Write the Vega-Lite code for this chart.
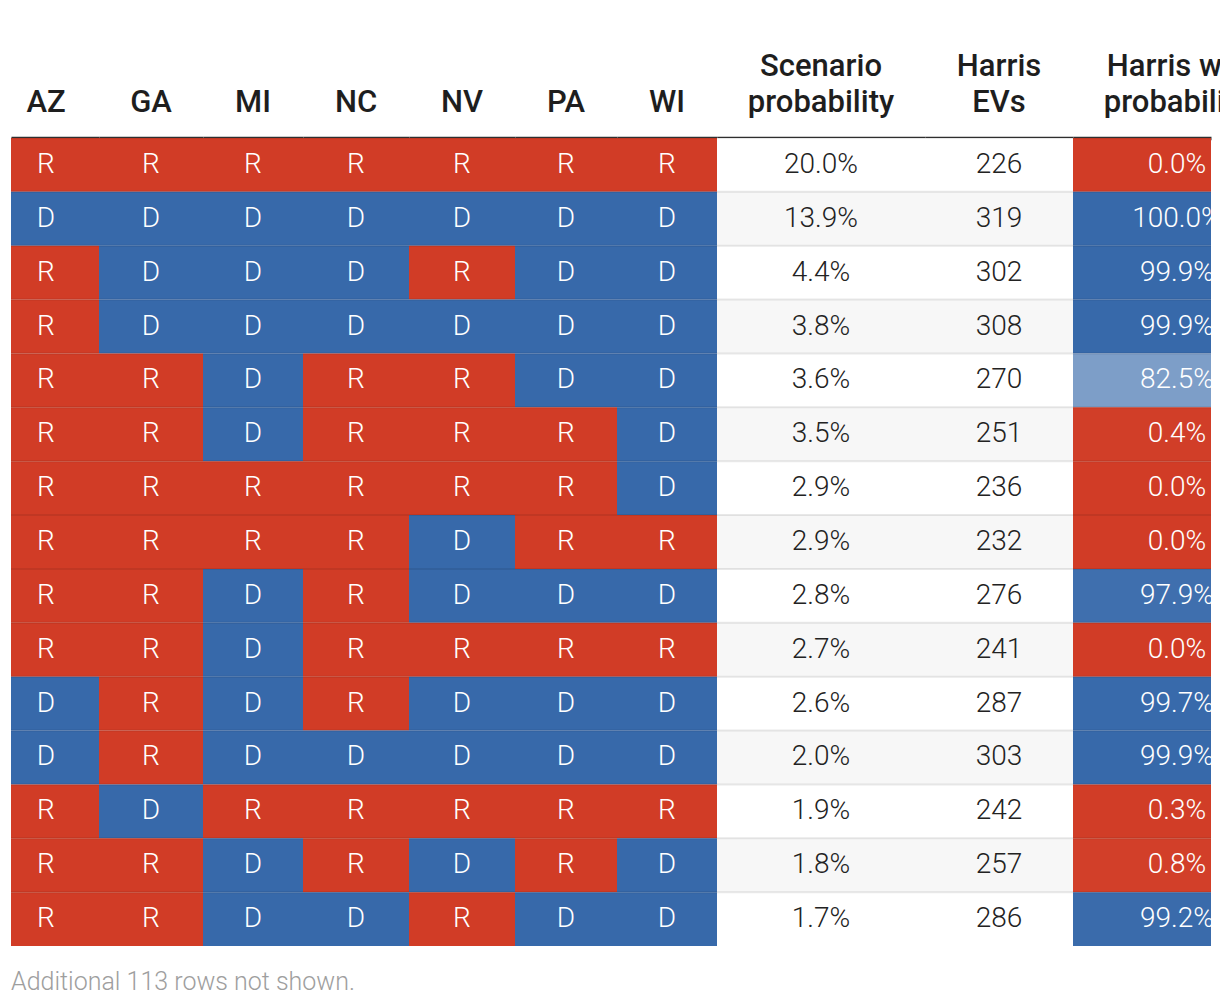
{
  "$schema": "https://vega.github.io/schema/vega-lite/v6.json",
  "padding": {"left": 10, "top": 50, "right": 0, "bottom": 4},
  "background": "white",
  "bounds": "flush",
  "datasets": {
    "rows": [
      {"row": 1, "AZ": "R", "GA": "R", "MI": "R", "NC": "R", "NV": "R", "PA": "R", "WI": "R", "scen": 0.200, "evs": 226, "win": 0.000},
      {"row": 2, "AZ": "D", "GA": "D", "MI": "D", "NC": "D", "NV": "D", "PA": "D", "WI": "D", "scen": 0.139, "evs": 319, "win": 1.000},
      {"row": 3, "AZ": "R", "GA": "D", "MI": "D", "NC": "D", "NV": "R", "PA": "D", "WI": "D", "scen": 0.044, "evs": 302, "win": 0.999},
      {"row": 4, "AZ": "R", "GA": "D", "MI": "D", "NC": "D", "NV": "D", "PA": "D", "WI": "D", "scen": 0.038, "evs": 308, "win": 0.999},
      {"row": 5, "AZ": "R", "GA": "R", "MI": "D", "NC": "R", "NV": "R", "PA": "D", "WI": "D", "scen": 0.036, "evs": 270, "win": 0.825},
      {"row": 6, "AZ": "R", "GA": "R", "MI": "D", "NC": "R", "NV": "R", "PA": "R", "WI": "D", "scen": 0.035, "evs": 251, "win": 0.004},
      {"row": 7, "AZ": "R", "GA": "R", "MI": "R", "NC": "R", "NV": "R", "PA": "R", "WI": "D", "scen": 0.029, "evs": 236, "win": 0.000},
      {"row": 8, "AZ": "R", "GA": "R", "MI": "R", "NC": "R", "NV": "D", "PA": "R", "WI": "R", "scen": 0.029, "evs": 232, "win": 0.000},
      {"row": 9, "AZ": "R", "GA": "R", "MI": "D", "NC": "R", "NV": "D", "PA": "D", "WI": "D", "scen": 0.028, "evs": 276, "win": 0.979},
      {"row": 10, "AZ": "R", "GA": "R", "MI": "D", "NC": "R", "NV": "R", "PA": "R", "WI": "R", "scen": 0.027, "evs": 241, "win": 0.000},
      {"row": 11, "AZ": "D", "GA": "R", "MI": "D", "NC": "R", "NV": "D", "PA": "D", "WI": "D", "scen": 0.026, "evs": 287, "win": 0.997},
      {"row": 12, "AZ": "D", "GA": "R", "MI": "D", "NC": "D", "NV": "D", "PA": "D", "WI": "D", "scen": 0.020, "evs": 303, "win": 0.999},
      {"row": 13, "AZ": "R", "GA": "D", "MI": "R", "NC": "R", "NV": "R", "PA": "R", "WI": "R", "scen": 0.019, "evs": 242, "win": 0.003},
      {"row": 14, "AZ": "R", "GA": "R", "MI": "D", "NC": "R", "NV": "D", "PA": "R", "WI": "D", "scen": 0.018, "evs": 257, "win": 0.008},
      {"row": 15, "AZ": "R", "GA": "R", "MI": "D", "NC": "D", "NV": "R", "PA": "D", "WI": "D", "scen": 0.017, "evs": 286, "win": 0.992}
    ]
  },
  "data": {"name": "rows"},
  "title": {"text": "Additional 113 rows not shown.", "orient": "bottom", "anchor": "start", "frame": "group", "font": "Roboto", "fontSize": 25, "fontWeight": 300, "color": "#9e9e9e", "offset": 24},
  "spacing": 0,
  "hconcat": [
    {"width": 88, "height": 808, "encoding": {"x": {"datum": "|AZ", "type": "nominal", "axis": {"labelOffset": -9}}, "y": {"field": "row", "type": "ordinal", "axis": null, "scale": {"paddingInner": 0, "paddingOuter": 0}}},
     "layer": [
      {"mark": "rect", "encoding": {"fill": {"field": "AZ", "type": "nominal", "scale": {"domain": ["R", "D"], "range": ["#d13c26", "#3769aa"]}, "legend": null}}},
      {"mark": {"type": "rule", "color": "black", "opacity": 0.08, "strokeWidth": 2}, "encoding": {"x": null, "y": {"field": "row", "type": "ordinal", "bandPosition": 0, "axis": null}}},
      {"mark": {"type": "text", "color": "white", "font": "Roboto", "fontSize": 28, "fontWeight": 300, "dx": -9}, "encoding": {"text": {"field": "AZ"}}}
     ]},
    {"width": 104, "height": 808, "encoding": {"x": {"datum": "|GA", "type": "nominal"}, "y": {"field": "row", "type": "ordinal", "axis": null, "scale": {"paddingInner": 0, "paddingOuter": 0}}},
     "layer": [
      {"mark": "rect", "encoding": {"fill": {"field": "GA", "type": "nominal", "scale": {"domain": ["R", "D"], "range": ["#d13c26", "#3769aa"]}, "legend": null}}},
      {"mark": {"type": "rule", "color": "black", "opacity": 0.08, "strokeWidth": 2}, "encoding": {"x": null, "y": {"field": "row", "type": "ordinal", "bandPosition": 0, "axis": null}}},
      {"mark": {"type": "text", "color": "white", "font": "Roboto", "fontSize": 28, "fontWeight": 300}, "encoding": {"text": {"field": "GA"}}}
     ]},
    {"width": 100, "height": 808, "encoding": {"x": {"datum": "|MI", "type": "nominal"}, "y": {"field": "row", "type": "ordinal", "axis": null, "scale": {"paddingInner": 0, "paddingOuter": 0}}},
     "layer": [
      {"mark": "rect", "encoding": {"fill": {"field": "MI", "type": "nominal", "scale": {"domain": ["R", "D"], "range": ["#d13c26", "#3769aa"]}, "legend": null}}},
      {"mark": {"type": "rule", "color": "black", "opacity": 0.08, "strokeWidth": 2}, "encoding": {"x": null, "y": {"field": "row", "type": "ordinal", "bandPosition": 0, "axis": null}}},
      {"mark": {"type": "text", "color": "white", "font": "Roboto", "fontSize": 28, "fontWeight": 300}, "encoding": {"text": {"field": "MI"}}}
     ]},
    {"width": 106, "height": 808, "encoding": {"x": {"datum": "|NC", "type": "nominal"}, "y": {"field": "row", "type": "ordinal", "axis": null, "scale": {"paddingInner": 0, "paddingOuter": 0}}},
     "layer": [
      {"mark": "rect", "encoding": {"fill": {"field": "NC", "type": "nominal", "scale": {"domain": ["R", "D"], "range": ["#d13c26", "#3769aa"]}, "legend": null}}},
      {"mark": {"type": "rule", "color": "black", "opacity": 0.08, "strokeWidth": 2}, "encoding": {"x": null, "y": {"field": "row", "type": "ordinal", "bandPosition": 0, "axis": null}}},
      {"mark": {"type": "text", "color": "white", "font": "Roboto", "fontSize": 28, "fontWeight": 300}, "encoding": {"text": {"field": "NC"}}}
     ]},
    {"width": 106, "height": 808, "encoding": {"x": {"datum": "|NV", "type": "nominal"}, "y": {"field": "row", "type": "ordinal", "axis": null, "scale": {"paddingInner": 0, "paddingOuter": 0}}},
     "layer": [
      {"mark": "rect", "encoding": {"fill": {"field": "NV", "type": "nominal", "scale": {"domain": ["R", "D"], "range": ["#d13c26", "#3769aa"]}, "legend": null}}},
      {"mark": {"type": "rule", "color": "black", "opacity": 0.08, "strokeWidth": 2}, "encoding": {"x": null, "y": {"field": "row", "type": "ordinal", "bandPosition": 0, "axis": null}}},
      {"mark": {"type": "text", "color": "white", "font": "Roboto", "fontSize": 28, "fontWeight": 300}, "encoding": {"text": {"field": "NV"}}}
     ]},
    {"width": 102, "height": 808, "encoding": {"x": {"datum": "|PA", "type": "nominal"}, "y": {"field": "row", "type": "ordinal", "axis": null, "scale": {"paddingInner": 0, "paddingOuter": 0}}},
     "layer": [
      {"mark": "rect", "encoding": {"fill": {"field": "PA", "type": "nominal", "scale": {"domain": ["R", "D"], "range": ["#d13c26", "#3769aa"]}, "legend": null}}},
      {"mark": {"type": "rule", "color": "black", "opacity": 0.08, "strokeWidth": 2}, "encoding": {"x": null, "y": {"field": "row", "type": "ordinal", "bandPosition": 0, "axis": null}}},
      {"mark": {"type": "text", "color": "white", "font": "Roboto", "fontSize": 28, "fontWeight": 300}, "encoding": {"text": {"field": "PA"}}}
     ]},
    {"width": 100, "height": 808, "encoding": {"x": {"datum": "|WI", "type": "nominal"}, "y": {"field": "row", "type": "ordinal", "axis": null, "scale": {"paddingInner": 0, "paddingOuter": 0}}},
     "layer": [
      {"mark": "rect", "encoding": {"fill": {"field": "WI", "type": "nominal", "scale": {"domain": ["R", "D"], "range": ["#d13c26", "#3769aa"]}, "legend": null}}},
      {"mark": {"type": "rule", "color": "black", "opacity": 0.08, "strokeWidth": 2}, "encoding": {"x": null, "y": {"field": "row", "type": "ordinal", "bandPosition": 0, "axis": null}}},
      {"mark": {"type": "text", "color": "white", "font": "Roboto", "fontSize": 28, "fontWeight": 300}, "encoding": {"text": {"field": "WI"}}}
     ]},
    {"width": 208, "height": 808, "encoding": {"x": {"datum": "Scenario|probability", "type": "nominal"}, "y": {"field": "row", "type": "ordinal", "axis": null, "scale": {"paddingInner": 0, "paddingOuter": 0}}},
     "layer": [
      {"mark": "rect", "encoding": {"fill": {"condition": {"test": "datum.row % 2 === 0", "value": "#f7f7f7"}, "value": "#ffffff"}}},
      {"mark": {"type": "rule", "color": "black", "opacity": 0.09, "strokeWidth": 2}, "encoding": {"x": null, "y": {"field": "row", "type": "ordinal", "bandPosition": 0, "axis": null}}},
      {"mark": {"type": "text", "color": "#222222", "font": "Roboto", "fontSize": 28, "fontWeight": 300}, "encoding": {"text": {"field": "scen", "type": "quantitative", "format": ".1%"}}}
     ]},
    {"width": 148, "height": 808, "encoding": {"x": {"datum": "Harris|EVs", "type": "nominal"}, "y": {"field": "row", "type": "ordinal", "axis": null, "scale": {"paddingInner": 0, "paddingOuter": 0}}},
     "layer": [
      {"mark": "rect", "encoding": {"fill": {"condition": {"test": "datum.row % 2 === 0", "value": "#f7f7f7"}, "value": "#ffffff"}}},
      {"mark": {"type": "rule", "color": "black", "opacity": 0.09, "strokeWidth": 2}, "encoding": {"x": null, "y": {"field": "row", "type": "ordinal", "bandPosition": 0, "axis": null}}},
      {"mark": {"type": "text", "color": "#222222", "font": "Roboto", "fontSize": 28, "fontWeight": 300}, "encoding": {"text": {"field": "evs", "type": "quantitative", "format": "d"}}}
     ]},
    {"width": 138, "height": 808, "encoding": {"x": {"datum": "Harris win|probability", "type": "nominal", "axis": {"labelOffset": 35}}, "y": {"field": "row", "type": "ordinal", "axis": null, "scale": {"paddingInner": 0, "paddingOuter": 0}}},
     "layer": [
      {"mark": {"type": "rect", "clip": true}, "encoding": {"fill": {"field": "win", "type": "quantitative", "scale": {"domain": [0, 0.5, 1], "range": ["#d13c26", "#ffffff", "#3769aa"], "interpolate": "rgb"}, "legend": null}}},
      {"mark": {"type": "rule", "color": "black", "opacity": 0.08, "strokeWidth": 2}, "encoding": {"x": null, "y": {"field": "row", "type": "ordinal", "bandPosition": 0, "axis": null}}},
      {"mark": {"type": "text", "color": "white", "font": "Roboto", "fontSize": 28, "fontWeight": 300, "dx": 35, "clip": true}, "encoding": {"text": {"field": "win", "type": "quantitative", "format": ".1%"}}}
     ]}
  ],
  "config": {
    "view": {"stroke": null},
    "scale": {"bandPaddingInner": 0, "bandPaddingOuter": 0},
    "axisX": {"orient": "top", "title": null, "ticks": false, "domain": true, "domainColor": "#333333", "domainWidth": 3.5, "labelFont": "Roboto", "labelFontSize": 31, "labelFontWeight": 500, "labelColor": "#1e1e1e", "labelPadding": 56, "labelAngle": 0, "labelLineHeight": 36, "labelLimit": 400, "zindex": 1, "labelExpr": "split(datum.label, '|')"}
  }
}
